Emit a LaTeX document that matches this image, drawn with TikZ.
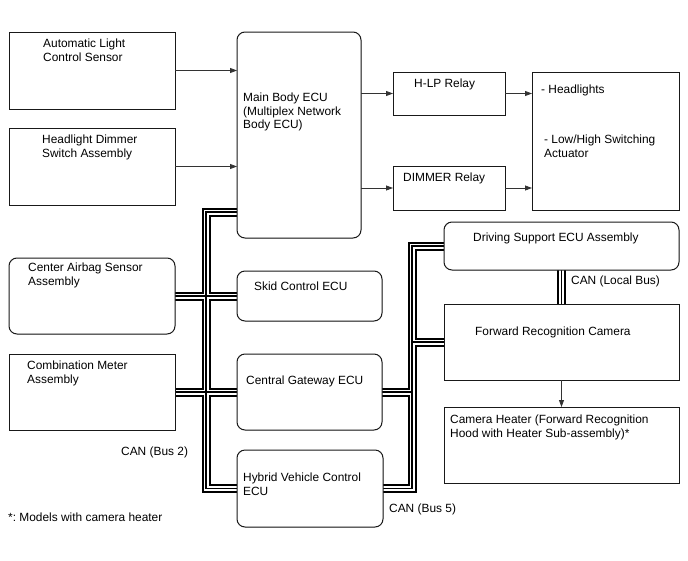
\documentclass[tikz,border=0pt]{standalone}
\usepackage{fontspec}
\setmainfont{Liberation Sans}
\usetikzlibrary{arrows.meta}
\frenchspacing
\tikzset{
  box/.style={draw=black!90, line width=1pt, inner sep=0pt, anchor=north west},
  rbox/.style={box, rounded corners=8pt},
  frame/.style={draw=black!90, line width=1pt, fill=white},
  txt/.style={inner sep=0pt, anchor=north west, align=left, font=\fontsize{11.9}{13.8}\selectfont},
  sig/.style={draw=black!80, line width=0.8pt, -{Triangle[length=7pt,width=5pt]}},
}
\newcommand{\mkbox}[6]{\node[#1, minimum width=#4-#2, minimum height=#5-#3] (#6) at (#2,#3) {};}
\begin{document}
\begin{tikzpicture}[x=1pt,y=-1pt]
\useasboundingbox[fill=white] (0,0) rectangle (688,560);
% boxes
\mkbox{box}{9}{32}{174}{108}{als}
\mkbox{box}{9}{128}{174}{204}{hds}
\mkbox{rbox}{237}{32}{360}{237}{mbe}
\mkbox{box}{393}{72}{504}{114}{hlp}
\mkbox{box}{393}{166}{504}{209}{dim}
\mkbox{box}{532}{72}{678}{209}{hl}
\mkbox{rbox}{9}{258}{174}{333}{cas}
\mkbox{box}{9}{354}{174}{429}{cma}
\mkbox{rbox}{237}{271}{381}{320}{skid}
\mkbox{rbox}{237}{354}{381}{429}{cgw}
\mkbox{rbox}{237}{450}{382}{526}{hv}
\mkbox{rbox}{444}{222}{678}{269}{ds}
\mkbox{box}{444}{304}{678}{379}{frc}
\mkbox{box}{444}{407}{678}{482}{ch}
\coordinate (lt) at (206,0);
\coordinate (rt) at (412,0);
% bus network drawn in three layers
\newcommand{\busnet}{
  ([yshift=26pt]mbe.south west) -| (hv.west -| lt) -- (hv.west)
  (cas.east) -- (skid.west)
  (cma.east) -- (cgw.west)
  (ds.west) -| (hv.east -| rt) -- (hv.east)
  (cgw.east) -- (cgw.east -| rt)
  (frc.west -| rt) -- (frc.west)
  (ds.south) -- (frc.north)
}
\draw[black, line width=9pt] \busnet;
\draw[white, line width=5pt] \busnet;
\draw[black, line width=1.2pt] \busnet;
% redraw boxes on top
\foreach \n in {als,hds,hlp,dim,hl,cma,frc,ch}
  \draw[frame] (\n.north west) rectangle (\n.south east);
\foreach \n in {mbe,cas,skid,cgw,hv,ds}
  \draw[frame, rounded corners=8pt] (\n.north west) rectangle (\n.south east);
% signal arrows
\draw[sig] (als.east) -- (als.east -| mbe.west);
\draw[sig] (hds.east) -- (hds.east -| mbe.west);
\draw[sig] (hlp.west -| mbe.east) -- (hlp.west);
\draw[sig] (dim.west -| mbe.east) -- (dim.west);
\draw[sig] (hlp.east) -- (hlp.east -| hl.west);
\draw[sig] (dim.east) -- (dim.east -| hl.west);
\draw[sig] (frc.south) -- (ch.north);
% texts
\node[txt] (t1) at (43,38.4) {Automatic Light\\Control Sensor};
\node[txt] (t2) at (42,134.4) {Headlight Dimmer\\Switch Assembly};
\node[txt] (t3) at (243,92.4) {Main Body ECU\\(Multiplex Network\\Body ECU)};
\node[txt] (t4) at (414,78.4) {H-LP Relay};
\node[txt] (t5) at (403,172.4) {DIMMER Relay};
\node[txt] (t6) at (541,84.4) {- Headlights};
\node[txt] (t7) at (544,134.4) {- Low/High Switching\\Actuator};
\node[txt] (t8) at (28,262.4) {Center Airbag Sensor\\Assembly};
\node[txt] (t9) at (27,360.4) {Combination Meter\\Assembly};
\node[txt] (t10) at (254,281.4) {Skid Control ECU};
\node[txt] (t11) at (246,375.4) {Central Gateway ECU};
\node[txt] (t12) at (243,472.4) {Hybrid Vehicle Control\\ECU};
\node[txt] (t13) at (473,232.4) {Driving Support ECU Assembly};
\node[txt] (t14) at (571,275.4) {CAN (Local Bus)};
\node[txt] (t15) at (475,326.4) {Forward Recognition Camera};
\node[txt] (t16) at (450,414.4) {Camera Heater (Forward Recognition\\Hood with Heater Sub-assembly)*};
\node[txt] (t17) at (121,446.4) {CAN (Bus 2)};
\node[txt] (t18) at (389,503.4) {CAN (Bus 5)};
\node[txt] (t19) at (8,512.4) {*: Models with camera heater};
\end{tikzpicture}
\end{document}
